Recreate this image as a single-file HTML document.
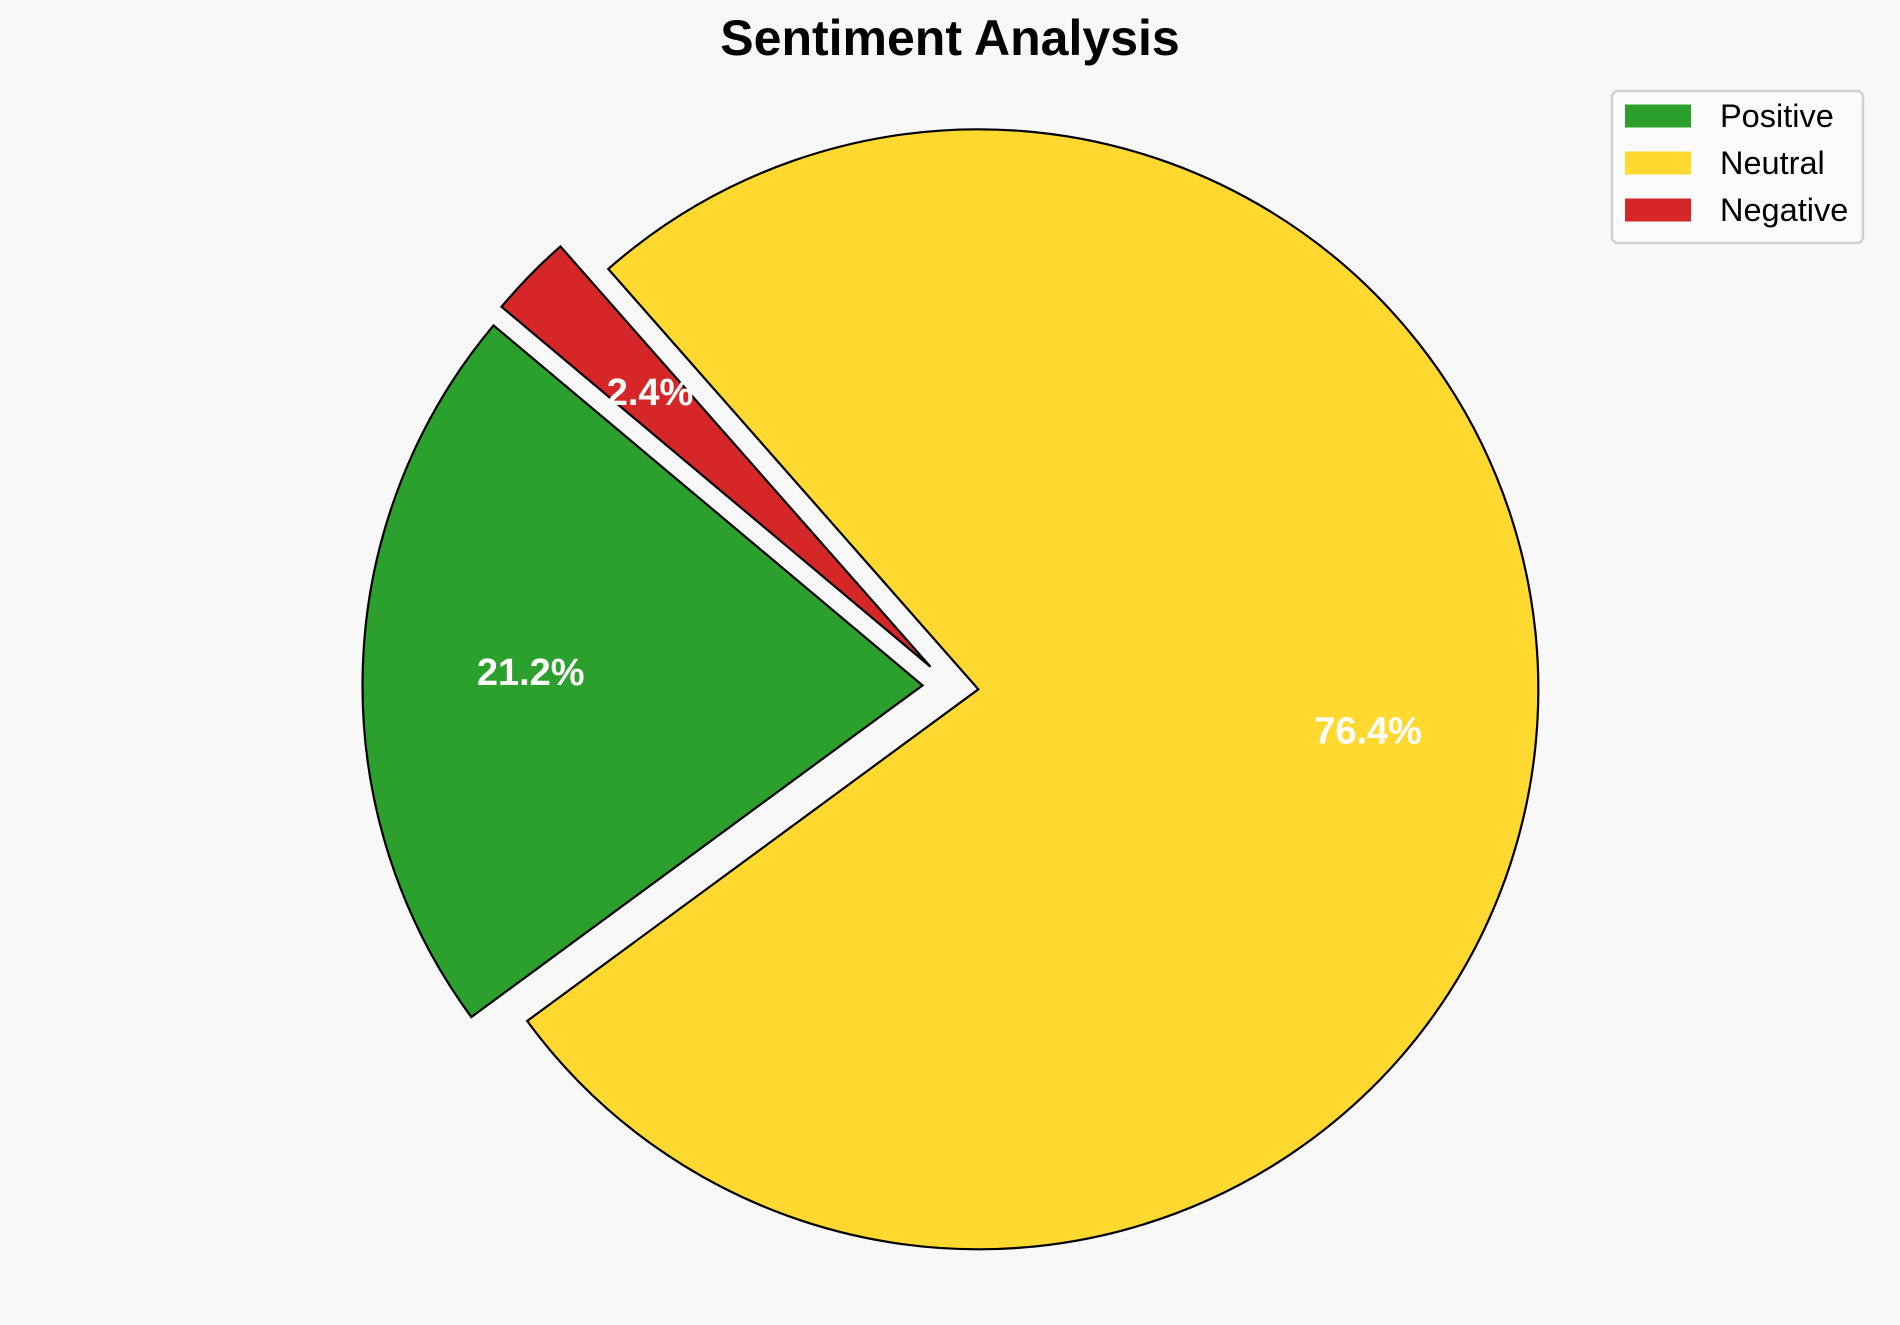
<!DOCTYPE html>
<html><head><meta charset="utf-8"><style>
html,body{margin:0;padding:0;background:#f8f8f8;}
svg{display:block;font-family:"Liberation Sans",Arial,sans-serif;}
</style></head><body>
<svg id="chart" width="1900" height="1325" viewBox="0 0 1900 1325">
<rect width="1900" height="1325" fill="#f8f8f8"/>
<text x="950" y="55" text-anchor="middle" font-size="50" font-weight="bold" fill="#000">Sentiment Analysis</text>
<g id="slices"></g>
<g id="labels"></g>
<g>
<rect x="1612" y="91" width="251" height="152" rx="6" fill="#fbfbfb" stroke="#d0d0d0" stroke-width="2.5"/>
<g id="legendItems"></g>
</g>
</svg>
<script>
const categories = ["Positive", "Neutral", "Negative"];
const values = [21.2, 76.4, 2.4];
const explode = [0.05, 0.05, 0.05];
const colors = ["#2ca02c", "#ffd92f", "#d62728"];
const cx = 950.5, cy = 686.3, R = 560, startAngle = 140, pctDist = 0.7;
const NS = "http://www.w3.org/2000/svg";
const total = values.reduce((a,b)=>a+b,0);
const gS = document.getElementById('slices'), gL = document.getElementById('labels'), gLeg = document.getElementById('legendItems');
let a0 = startAngle;
function pt(x,y,ang,r){const t=ang*Math.PI/180;return [x+r*Math.cos(t), y-r*Math.sin(t)];}
values.forEach((v,i)=>{
  const sweep = v/total*360, a1 = a0+sweep, mid=(a0+a1)/2;
  const [ox,oy] = pt(cx,cy,mid,explode[i]*R);
  const [x0,y0] = pt(ox,oy,a0,R), [x1,y1] = pt(ox,oy,a1,R);
  const large = sweep>180?1:0;
  const p = document.createElementNS(NS,'path');
  p.setAttribute('d',`M${ox},${oy} L${x0},${y0} A${R},${R} 0 ${large} 0 ${x1},${y1} Z`);
  p.setAttribute('fill',colors[i]); p.setAttribute('stroke','#000'); p.setAttribute('stroke-width','2.2'); p.setAttribute('stroke-linejoin','miter');
  
  
  gS.appendChild(p);
  const [lx,ly] = pt(ox,oy,mid,pctDist*R);
  const t = document.createElementNS(NS,'text');
  t.setAttribute('x',lx); t.setAttribute('y',ly); t.setAttribute('text-anchor','middle'); t.setAttribute('dominant-baseline','central');
  t.setAttribute('font-size','38'); t.setAttribute('font-weight','bold'); t.setAttribute('fill','#fff');
  t.textContent = v.toFixed(1)+'%';
  
  
  gL.appendChild(t);
  const yy = 116 + i*47;
  const r = document.createElementNS(NS,'rect');
  r.setAttribute('x',1625); r.setAttribute('y',yy-11.5); r.setAttribute('width',66); r.setAttribute('height',23); r.setAttribute('fill',colors[i]);
  
  
  gLeg.appendChild(r);
  const lt = document.createElementNS(NS,'text');
  lt.setAttribute('x',1720); lt.setAttribute('y',yy); lt.setAttribute('dominant-baseline','central'); lt.setAttribute('font-size','32.5'); lt.setAttribute('fill','#000');
  lt.textContent = categories[i];
  
  
  gLeg.appendChild(lt);
  a0 = a1;
});
</script>
</body></html>
